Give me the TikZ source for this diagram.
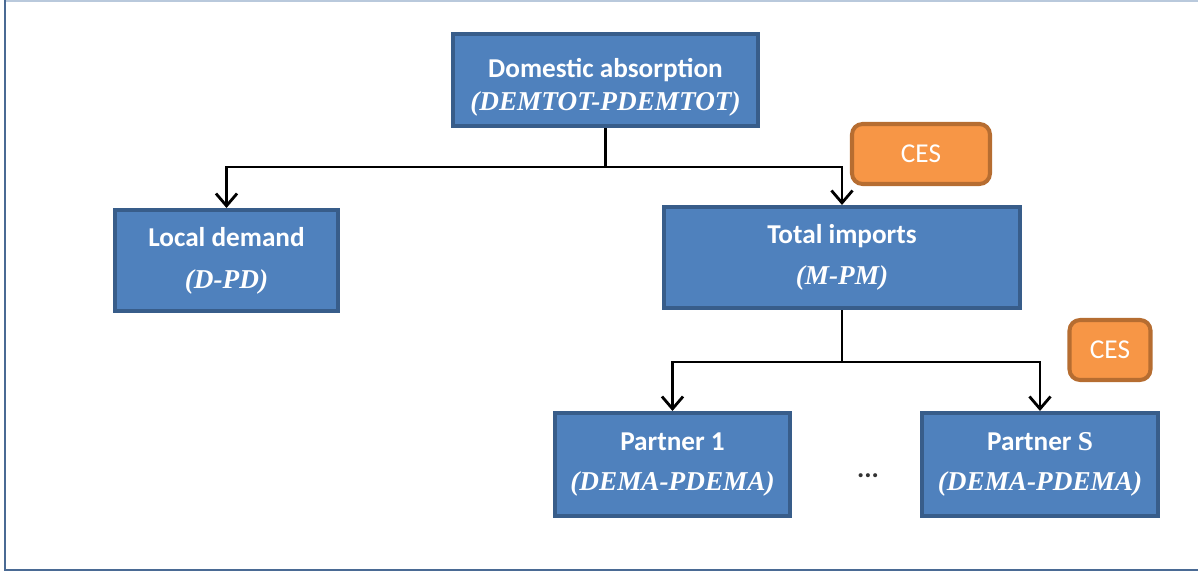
\documentclass[tikz,border=0pt]{standalone}
\usepackage{fontspec}
\setmainfont{Carlito}
\newfontfamily\serifit{Liberation Serif}
\usetikzlibrary{arrows.meta}

\definecolor{boxfill}{HTML}{4F81BD}
\definecolor{boxline}{HTML}{385D8A}
\definecolor{cesfill}{HTML}{F79646}
\definecolor{cesline}{HTML}{B66D31}
\definecolor{framedark}{HTML}{4A6A94}
\definecolor{framelight}{HTML}{B9C9DC}

\newcommand{\vname}[1]{{\serifit\bfseries\itshape #1}}

\begin{document}
\begin{tikzpicture}[x=0.02cm,y=-0.02cm,
  block/.style={draw=boxline,fill=boxfill,line width=2.3pt,text=white,
    font=\fontsize{15.5}{18}\selectfont\bfseries,align=center,inner sep=0pt,
    minimum height=2.02cm},
  ces/.style={draw=cesline,fill=cesfill,line width=2.3pt,rounded corners=6pt,
    text=white,font=\fontsize{15.5}{18}\selectfont,minimum height=1.2cm,inner sep=0pt},
  conn/.style={line width=1.6pt,-{Straight Barb[length=7pt,width=12pt,line width=1.6pt]}}]

  \useasboundingbox (0,0) rectangle (1198,573);
  % frame
  \draw[framelight,line width=1pt] (5,1) -- (1198,1);
  \draw[framedark,line width=1.6pt] (5,0) -- (5,570) -- (1198,570);

  \node[block,minimum width=6.1cm,minimum height=1.84cm] (dom) at (605.5,80)
    {\rule{0pt}{19pt}Domestic absorption\\[1pt]\vname{(DEMTOT-PDEMTOT)}};
  \node[block,minimum width=4.46cm] (loc) at (226.5,260.5)
    {Local demand\\[6pt]\vname{(D-PD)}};
  \node[block,minimum width=7.12cm] (tot) at (842,257.5)
    {Total imports\\[5pt]\vname{(M-PM)}};
  \node[block,minimum width=4.7cm,minimum height=2.06cm] (p1) at (672.5,464.5)
    {Partner 1\\[5pt]\vname{(DEMA-PDEMA)}};
  \node[block,minimum width=4.72cm,minimum height=2.06cm] (ps) at (1040,464.5)
    {Partner {\serifit S}\\[5pt]\vname{(DEMA-PDEMA)}};
  \node[font=\fontsize{15.5}{18}\selectfont\bfseries,text=black!80] (dots) at (868,476) {...};

  \node[ces,minimum width=2.76cm] (ces1) at (921,154) {CES};
  \node[ces,minimum width=1.62cm] (ces2) at (1110,350) {CES};

  \coordinate (j1) at (605.5,167);
  \coordinate (j2) at (842,362);

  \draw[line width=1.6pt] (dom.south) -- (j1);
  \draw[conn] (j1) -| (loc.north);
  \draw[conn] (j1) -| (tot.north);
  \draw[line width=1.6pt] (tot.south) -- (j2);
  \draw[conn] (j2) -| (p1.north);
  \draw[conn] (j2) -| (ps.north);

\end{tikzpicture}
\end{document}
